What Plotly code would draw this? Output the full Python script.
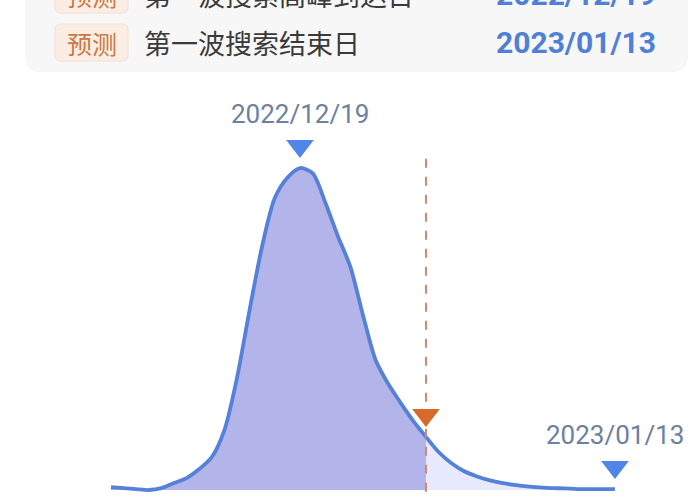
import plotly.graph_objects as go
import pandas as pd

# search heat curve, normalised so peak = 100
dates = pd.date_range("2022-12-04", "2023-01-13", freq="D")
values = [0.9, 0.6, 0.3, 0.0, 0.6, 2.2, 3.7, 6.5, 10.2, 18.6,
          34.8, 55.9, 75.8, 90.7, 97.0, 100.0, 98.4, 89.4, 78.9, 69.3,
          54.3, 40.4, 33.0, 27.0, 21.4, 16.5, 11.8, 8.4, 5.9, 4.3,
          3.1, 2.2, 1.6, 1.1, 0.8, 0.6, 0.5, 0.3, 0.3, 0.3, 0.3]

today = pd.Timestamp("2022-12-29")
peak_day = pd.Timestamp("2022-12-19")
end_day = pd.Timestamp("2023-01-13")

row_tags = ["预测", "预测"]
row_names = ["第一波搜索高峰到达日", "第一波搜索结束日"]
row_dates = ["2022/12/19", "2023/01/13"]

df = pd.DataFrame({"date": dates, "v": values})
past = df[df.date <= today]
future = df[df.date >= today]

W, H = 700, 500
blue = "#5581d9"
label_col = "#6c80a2"

fig = go.Figure()
fig.add_trace(go.Scatter(x=past.date, y=past.v, mode="lines", fill="tozeroy",
                         fillcolor="#b3b4ea", line=dict(color=blue, width=3.8, shape="spline", smoothing=0.8)))
fig.add_trace(go.Scatter(x=future.date, y=future.v, mode="lines", fill="tozeroy",
                         fillcolor="#e7eafc", line=dict(color=blue, width=3.8, shape="spline", smoothing=0.8)))

px_per_unit = 322 / 100  # y pixels per value unit
off = 22 / px_per_unit
v_at = dict(zip(df.date, df.v))

# "today" marker line, drawn as a trace so the triangle sits on top of it
fig.add_trace(go.Scatter(x=[today, today], y=[-0.5, 103.5], mode="lines",
                         line=dict(color="#c98c70", width=2, dash="dash")))

fig.add_trace(go.Scatter(x=[peak_day, end_day], y=[v_at[peak_day] + off, v_at[end_day] + off],
                         mode="markers", marker=dict(symbol="triangle-down", size=24, color="#4f86e8")))
fig.add_trace(go.Scatter(x=[today], y=[v_at[today] + off], mode="markers",
                         marker=dict(symbol="triangle-down", size=24, color="#d8692a")))

for d, txt in [(peak_day, "2022/12/19"), (end_day, "2023/01/13")]:
    fig.add_annotation(x=d, y=v_at[d], text=txt, showarrow=False, yshift=54,
                       font=dict(family="Roboto", size=26, color=label_col))

# top card (cut off at the top)
def rpath(x0, x1, y0, y1, r, top_round=True):
    rx, ry = r / W, r / H
    X0, X1 = x0 / W, x1 / W
    Yt, Yb = 1 - y0 / H, 1 - y1 / H
    p = f"M {X0},{Yt - ry} " if top_round else f"M {X0},{Yt} "
    p += f"L {X0},{Yb + ry} Q {X0},{Yb} {X0 + rx},{Yb} L {X1 - rx},{Yb} Q {X1},{Yb} {X1},{Yb + ry} "
    if top_round:
        p += f"L {X1},{Yt - ry} Q {X1},{Yt} {X1 - rx},{Yt} L {X0 + rx},{Yt} Q {X0},{Yt} {X0},{Yt - ry} Z"
    else:
        p += f"L {X1},{Yt} Z"
    return p

fig.add_shape(type="path", path=rpath(25, 688, -30, 72, 16, top_round=False), xref="paper", yref="paper",
              fillcolor="#f7f7f7", line=dict(width=0), layer="below")

row_h = 48
for i, (tag, name, dt) in enumerate(zip(row_tags, row_names, row_dates)):
    cy = 43 - row_h * (len(row_names) - 1 - i)
    fig.add_shape(type="path", path=rpath(55, 128, cy - 19, cy + 18, 6), xref="paper", yref="paper",
                  fillcolor="#fbede4", line=dict(color="#f4dfd2", width=1), layer="below")
    fig.add_annotation(x=91.5 / W, y=1 - cy / H, xref="paper", yref="paper", text=tag, showarrow=False,
                       xanchor="center", yanchor="middle",
                       font=dict(family="Noto Sans CJK SC", size=25, color="#c97942"))
    fig.add_annotation(x=142 / W, y=1 - cy / H, xref="paper", yref="paper", text=name, showarrow=False,
                       xanchor="left", yanchor="middle",
                       font=dict(family="Noto Sans CJK SC", size=27, color="#3a3a3a"))
    fig.add_annotation(x=658 / W, y=1 - cy / H, xref="paper", yref="paper", text="<b>" + dt + "</b>",
                       showarrow=False, xanchor="right", yanchor="middle",
                       font=dict(family="Roboto", size=30, color="#4f7fd6"))

fig.update_layout(
    width=W, height=H, margin=dict(l=0, r=0, t=0, b=0),
    paper_bgcolor="white", plot_bgcolor="white", showlegend=False,
    xaxis=dict(range=["2022-11-25 04:34", "2023-01-19 18:00"], visible=False),
    yaxis=dict(range=[-3.1, 152.2], visible=False),
)
# drop the default page margin so the figure sits at the window corner
fig.write_html("out.html", config={"displayModeBar": False},
               post_script="document.body.style.margin='0';")
